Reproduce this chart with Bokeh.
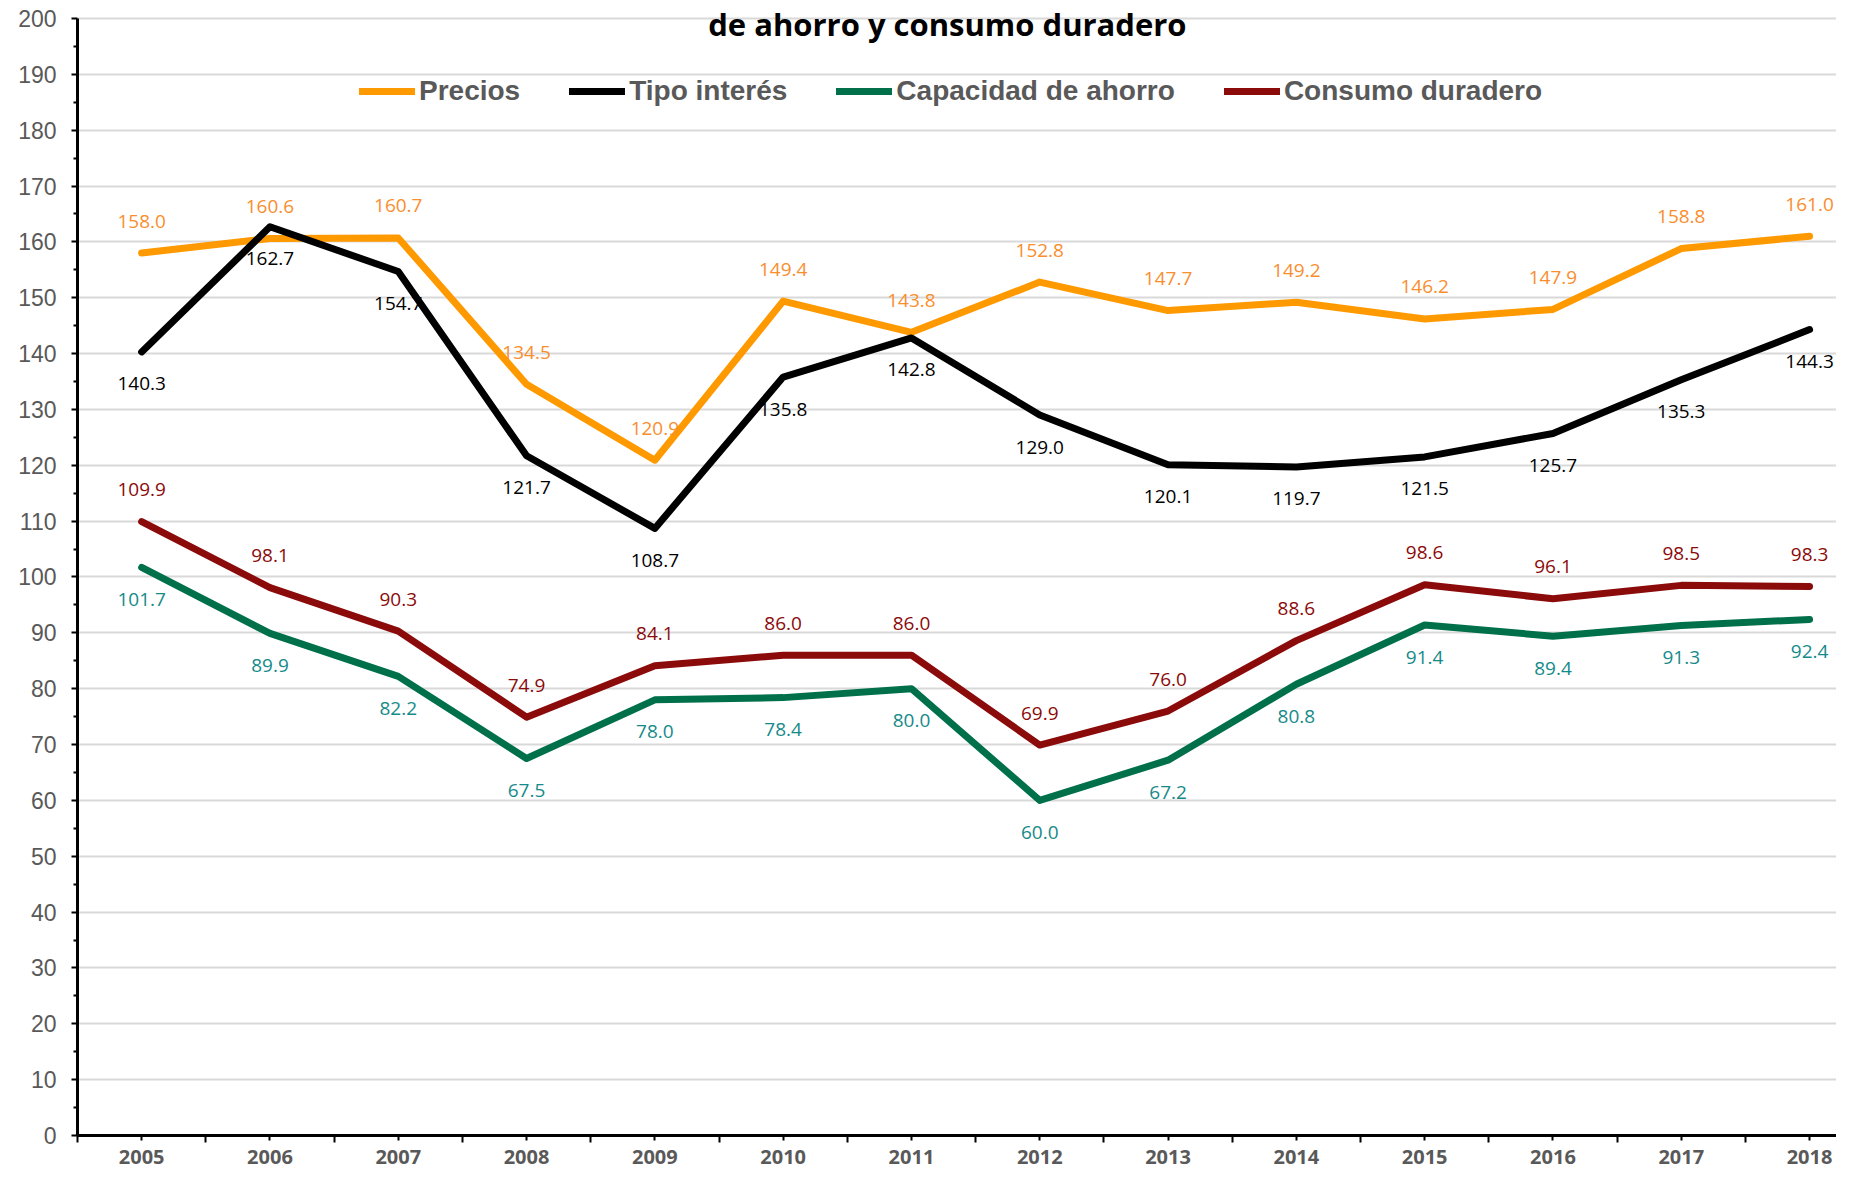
from bokeh.plotting import figure
from bokeh.models import (FixedTicker, Legend, LegendItem, Label, ColumnDataSource)
from bokeh.core.properties import value
from bokeh.embed import file_html
from bokeh.resources import INLINE

years = ["2005", "2006", "2007", "2008", "2009", "2010", "2011", "2012",
         "2013", "2014", "2015", "2016", "2017", "2018"]
precios = [158.0, 160.6, 160.7, 134.5, 120.9, 149.4, 143.8, 152.8, 147.7, 149.2, 146.2, 147.9, 158.8, 161.0]
tipo_interes = [140.3, 162.7, 154.7, 121.7, 108.7, 135.8, 142.8, 129.0, 120.1, 119.7, 121.5, 125.7, 135.3, 144.3]
capacidad_ahorro = [101.7, 89.9, 82.2, 67.5, 78.0, 78.4, 80.0, 60.0, 67.2, 80.8, 91.4, 89.4, 91.3, 92.4]
consumo_duradero = [109.9, 98.1, 90.3, 74.9, 84.1, 86.0, 86.0, 69.9, 76.0, 88.6, 98.6, 96.1, 98.5, 98.3]
y_ticks = list(range(0, 201, 10))
title_text = "de ahorro y consumo duradero"

xs = list(range(len(years)))

p = figure(width=1836, height=1168, output_backend="svg", toolbar_location=None,
           x_range=(-0.5, 13.21), y_range=(0, 202.5),
           min_border_left=77, min_border_right=0, min_border_top=4, min_border_bottom=33)
p.outline_line_color = None
p.background_fill_color = "white"

# axes
p.xaxis.ticker = FixedTicker(ticks=xs, minor_ticks=[i - 0.5 for i in range(len(years) + 1)])
p.xaxis.major_label_overrides = {i: y for i, y in enumerate(years)}
p.xaxis.axis_line_color = "black"
p.xaxis.axis_line_width = 3
p.xaxis.major_tick_in = 0
p.xaxis.major_tick_out = 5
p.xaxis.minor_tick_in = 0
p.xaxis.minor_tick_out = 7
p.xaxis.major_tick_line_width = 2
p.xaxis.minor_tick_line_width = 2
p.xaxis.major_label_standoff = 7
p.xaxis.major_label_text_font = "Open Sans"
p.xaxis.major_label_text_font_style = "bold"
p.xaxis.major_label_text_font_size = "20px"
p.xaxis.major_label_text_color = "#595959"

p.yaxis.bounds = (0, 200)
p.yaxis.ticker = FixedTicker(ticks=y_ticks, minor_ticks=[t + 5 for t in y_ticks[:-1]])
p.yaxis.axis_line_color = "black"
p.yaxis.axis_line_width = 3
p.yaxis.major_tick_in = 0
p.yaxis.major_tick_out = 6
p.yaxis.minor_tick_in = 0
p.yaxis.minor_tick_out = 4
p.yaxis.major_tick_line_width = 2
p.yaxis.minor_tick_line_width = 2
p.yaxis.major_label_standoff = 15
p.yaxis.major_label_text_font = "Liberation Sans"
p.yaxis.major_label_text_font_size = "23px"
p.yaxis.major_label_text_color = "#595959"

p.xgrid.grid_line_color = None
p.ygrid.ticker = FixedTicker(ticks=y_ticks[1:])
p.ygrid.grid_line_color = "#D9D9D9"
p.ygrid.grid_line_width = 2

series = [
    ("Precios", precios, "#FF9900", "#F98E2E", -32),
    ("Tipo interés", tipo_interes, "#000000", "#000000", 32),
    ("Capacidad de ahorro", capacidad_ahorro, "#00704A", "#168A8A", 32),
    ("Consumo duradero", consumo_duradero, "#8B0A0A", "#8B0A0A", -32),
]

renderers = []
for name, vals, lc, tc, off in series:
    src = ColumnDataSource(dict(x=xs, y=vals, t=[f"{v:.1f}" for v in vals]))
    r = p.line("x", "y", source=src, line_color=lc, line_width=7,
               line_join="round", line_cap="round")
    renderers.append((name, r))
    p.text("x", "y", text="t", source=src, y_offset=off,
           text_align="center", text_baseline="middle",
           text_font=value("Open Sans"), text_font_size="19px", text_color=tc)

legend = Legend(items=[LegendItem(label=n, renderers=[r]) for n, r in renderers],
                orientation="horizontal", location=(282, 1028),
                glyph_width=56, glyph_height=30, label_standoff=4, spacing=49,
                padding=0, margin=0, border_line_color=None,
                background_fill_alpha=0,
                label_text_font="Liberation Sans", label_text_font_style="bold",
                label_text_font_size="28px", label_text_color="#595959")
p.add_layout(legend)

title = Label(x=6.28, y=199.0, text=title_text, text_align="center",
              text_baseline="alphabetic", text_font="Open Sans",
              text_font_style="bold", text_font_size="31px", text_color="black")
p.add_layout(title)

open("out.html", "w").write(file_html(p, INLINE))
